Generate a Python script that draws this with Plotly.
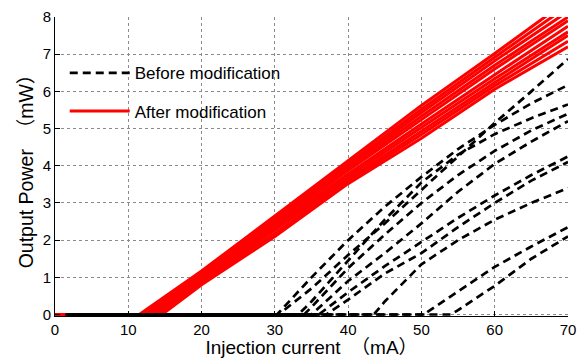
import plotly.graph_objects as go

# ---------------- data ----------------
# "After modification" (red) curves: lasing threshold (mA) and output power (mW) at grid currents
red_threshold = [11.5, 11.8, 12.0, 12.3, 12.6, 13.0, 13.4, 13.8, 14.2, 14.6]
red_currents = [20, 30, 40, 50, 60, 70]
red_power = [
    [1.17, 2.65, 4.13, 5.62, 7.02, 8.45],
    [1.13, 2.60, 4.07, 5.52, 6.92, 8.30],
    [1.10, 2.55, 4.00, 5.43, 6.82, 8.15],
    [1.06, 2.50, 3.93, 5.33, 6.70, 8.00],
    [1.02, 2.45, 3.87, 5.24, 6.60, 7.90],
    [0.98, 2.38, 3.78, 5.12, 6.45, 7.75],
    [0.94, 2.32, 3.71, 5.03, 6.34, 7.60],
    [0.90, 2.26, 3.64, 4.93, 6.24, 7.50],
    [0.85, 2.18, 3.58, 4.84, 6.15, 7.35],
    [0.80, 2.10, 3.52, 4.74, 6.06, 7.20],
]

# "Before modification" (black dashed) curves
black_start = [1.4, 1.6, 1.8, 2.0, 2.2, 2.4, 2.6, 2.8, 3.0, 3.2]
black_threshold = [30.5, 30.3, 33.2, 34.0, 35.0, 36.0, 37.0, 43.5, 50.3, 54.0]
black_currents = [35, 40, 45, 50, 55, 60, 65, 70]
black_power = [
    [0.70, 1.60, 2.45, 3.35, 4.25, 5.15, 6.00, 6.87],
    [1.00, 2.00, 2.90, 3.70, 4.45, 5.10, 5.68, 6.17],
    [0.35, 1.45, 2.55, 3.55, 4.30, 4.85, 5.28, 5.65],
    [0.20, 1.25, 2.15, 3.00, 3.75, 4.40, 4.95, 5.40],
    [0.00, 0.90, 1.65, 2.45, 3.30, 4.05, 4.65, 5.20],
    [0.00, 0.60, 1.30, 1.95, 2.60, 3.20, 3.75, 4.25],
    [0.00, 0.40, 1.10, 1.65, 2.35, 3.00, 3.60, 4.10],
    [0.00, 0.00, 0.35, 1.35, 2.00, 2.55, 3.00, 3.40],
    [0.00, 0.00, 0.00, 0.00, 0.62, 1.28, 1.83, 2.35],
    [0.00, 0.00, 0.00, 0.00, 0.12, 0.77, 1.50, 2.10],
]

x_ticks = [0, 10, 20, 30, 40, 50, 60, 70]
y_ticks = [0, 1, 2, 3, 4, 5, 6, 7, 8]

x_title = "Injection current\u00a0\u00a0（mA）"
y_title = "Output Power\u00a0\u00a0（mW）"
label_before = "Before modification"
label_after = "After modification"

# ---------------- figure ----------------
FONT = "Arial, 'Liberation Sans', 'Noto Sans CJK SC', sans-serif"
fig = go.Figure()

for i, (thr, vals) in enumerate(zip(red_threshold, red_power)):
    xs = [0, thr] + [c for c in red_currents if c > thr]
    ys = [0, 0] + [v for c, v in zip(red_currents, vals) if c > thr]
    fig.add_trace(go.Scatter(
        x=xs, y=ys, mode="lines",
        line=dict(color="#ff0000", width=3),
        name=label_after, legendgroup="after", legendrank=2,
        showlegend=(i == 0), hoverinfo="skip",
    ))

for i, (st, thr, vals) in enumerate(zip(black_start, black_threshold, black_power)):
    xs = [st, thr] + [c for c in black_currents if c > thr]
    ys = [0, 0] + [v for c, v in zip(black_currents, vals) if c > thr]
    fig.add_trace(go.Scatter(
        x=xs, y=ys, mode="lines",
        line=dict(color="black", width=2.7, dash="8px,5px"),
        name=label_before, legendgroup="before", legendrank=1,
        showlegend=(i == 0), hoverinfo="skip",
    ))

axis_common = dict(
    showline=True, linecolor="black", linewidth=1,
    ticks="inside", ticklen=5, tickcolor="black", tickwidth=1,
    showgrid=True, gridcolor="#8a8a8a", gridwidth=1, griddash="dot",
    zeroline=False, tickfont=dict(family=FONT, size=15, color="black"),
    automargin=False,
)

# page body has an 8px default margin, so the figure is sized to fit the 585x358 window
fig.update_layout(
    width=577, height=350,
    margin=dict(l=47, r=17, t=9, b=42),
    paper_bgcolor="white", plot_bgcolor="white",
    font=dict(family=FONT, color="black"),
    xaxis=dict(range=[0, 70], tickvals=x_ticks,
               title=dict(text=x_title, font=dict(family=FONT, size=19), standoff=2),
               **axis_common),
    yaxis=dict(range=[-0.04, 8], tickvals=y_ticks,
               title=dict(text=y_title, font=dict(family=FONT, size=19.5), standoff=3),
               **axis_common),
    legend=dict(x=0.019, y=0.872, xanchor="left", yanchor="top",
                bgcolor="rgba(0,0,0,0)", borderwidth=0, itemwidth=60,
                font=dict(family=FONT, size=17, color="black"),
                tracegroupgap=13, traceorder="grouped"),
)

fig.write_html("out.html")
